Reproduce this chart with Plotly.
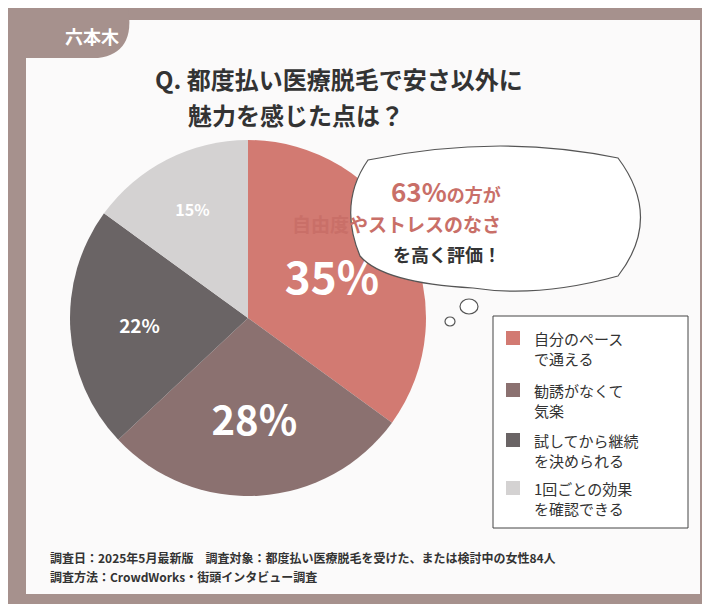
import plotly.graph_objects as go

labels = ["自分のペース<br>で通える", "勧誘がなくて<br>気楽", "試してから継続<br>を決められる", "1回ごとの効果<br>を確認できる"]
values = [35, 28, 22, 15]
colors = ["#d27a72", "#8b7170", "#6a6465", "#d4d2d2"]
sizes = [44, 40, 19, 16]

W, H = 710, 604
def px(x): return x / W
def py(y): return 1 - y / H

fig = go.Figure()
fig.add_trace(go.Pie(
    values=values, labels=labels, sort=False, direction="clockwise", rotation=0,
    marker=dict(colors=colors, line=dict(width=0)),
    texttemplate="<b>%{value}%</b>", textposition="inside", insidetextorientation="horizontal",
    textfont=dict(color="white", size=sizes, family="Noto Sans CJK JP"),
    domain=dict(x=[px(62), px(418)], y=[py(488), py(132)]),
    showlegend=False, hoverinfo="skip"))

shapes = [
    dict(type="rect", xref="paper", yref="paper", x0=0, x1=1, y0=0, y1=1, fillcolor="#a6918d", line_width=0, layer="below"),
    dict(type="rect", xref="paper", yref="paper", x0=px(18), x1=px(692), y0=py(586), y1=py(12), fillcolor="#fbfafa", line_width=0, layer="below"),
    dict(type="path", xref="paper", yref="paper",
         path=f"M 0 1 L {px(120)} 1 Q {px(128)} {py(45)} {px(90)} {py(50)} L 0 {py(50)} Z",
         fillcolor="#a6918d", line_width=0, layer="below"),
    dict(type="path", xref="paper", yref="paper",
         path=f"M {px(360)} {py(152)} Q {px(490)} {py(125)} {px(610)} {py(150)} Q {px(655)} {py(210)} {px(610)} {py(268)} "
              f"Q {px(530)} {py(290)} {px(465)} {py(280)} Q {px(375)} {py(275)} {px(352)} {py(248)} Q {px(330)} {py(195)} {px(360)} {py(152)} Z",
         fillcolor="white", line=dict(color="#555", width=1.2)),
    dict(type="circle", xref="paper", yref="paper", x0=px(452), x1=px(470), y0=py(306), y1=py(291), fillcolor="white", line=dict(color="#555", width=1.2)),
    dict(type="circle", xref="paper", yref="paper", x0=px(437), x1=px(447), y0=py(318), y1=py(309), fillcolor="white", line=dict(color="#555", width=1.2)),
    dict(type="rect", xref="paper", yref="paper", x0=px(485), x1=px(680), y0=py(520), y1=py(308), fillcolor="white", line=dict(color="#444", width=1)),
]
ann = [
    dict(x=px(55), y=py(28), text="<b>六本木</b>", font=dict(size=18, color="white")),
    dict(x=px(145), y=py(70), xanchor="left", text="<b>Q. 都度払い医療脱毛で安さ以外に</b>", font=dict(size=24, color="#333")),
    dict(x=px(178), y=py(106), xanchor="left", text="<b>魅力を感じた点は？</b>", font=dict(size=24, color="#333")),
    dict(x=px(495), y=py(182), text="<b><span style='font-size:26px'>63%</span>の方が</b>", font=dict(size=18, color="#c96f68")),
    dict(x=px(495), y=py(215), text="<b>自由度やストレスのなさ</b>", font=dict(size=19, color="#c96f68")),
    dict(x=px(495), y=py(246), text="<b>を高く評価！</b>", font=dict(size=18, color="#333")),
    dict(x=px(40), y=py(549), xanchor="left", text="<b>調査日：2025年5月最新版　調査対象：都度払い医療脱毛を受けた、または検討中の女性84人</b>", font=dict(size=12, color="#333")),
    dict(x=px(40), y=py(568), xanchor="left", text="<b>調査方法：CrowdWorks・街頭インタビュー調査</b>", font=dict(size=12, color="#333")),
]
ys = [340, 392, 442, 490]
for i, (lab, c) in enumerate(zip(labels, colors)):
    y = ys[i]
    shapes.append(dict(type="rect", xref="paper", yref="paper", x0=px(498), x1=px(512), y0=py(y - 3), y1=py(y - 17), fillcolor=c, line_width=0))
    ann.append(dict(x=px(524), y=py(y), xanchor="left", align="left", text=lab, font=dict(size=15, color="#333")))
for a in ann:
    a.update(xref="paper", yref="paper", showarrow=False)
    a.setdefault("yanchor", "middle")

fig.update_layout(width=W, height=H, margin=dict(l=0, r=0, t=0, b=0),
                  paper_bgcolor="white", shapes=shapes, annotations=ann,
                  font=dict(family="Noto Sans CJK JP"))
fig.write_html("out.html")
